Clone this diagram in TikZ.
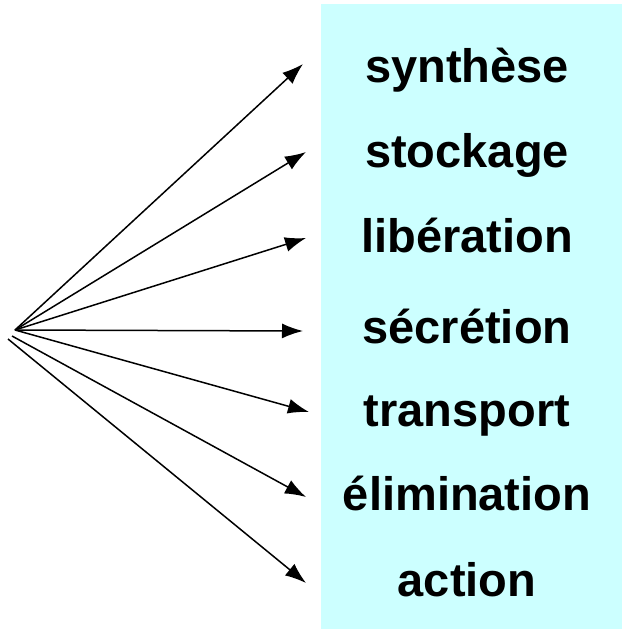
\documentclass[tikz,border=0pt]{standalone}
\usepackage{fontspec}
\setmainfont{Liberation Sans}
\usetikzlibrary{%
  arrows.meta,%
  calc%
}
\definecolor{boxcyan}{RGB}{204,255,255}
\tikzset{>={Latex[length=21pt,width=15pt]}}
\tikzset{step label/.style={anchor=base,font=\fontsize{47}{56}\selectfont\bfseries}}

\begin{document}
\begin{tikzpicture}[x=1pt,y=-1pt]
    \useasboundingbox (0,0) rectangle (622,629);
    \fill[boxcyan] (321,4) rectangle (622,629);
    % where the arrows leave
    \coordinate (src) at (15,330);
    \coordinate (srcb) at (12,336);
    \coordinate (srcc) at (8,339);
    % the steps
    \node[step label] (synth) at (467,82) {synthèse};
    \node[step label] (stock) at (467,167) {stockage};
    \node[step label] (liber) at (467,252) {libération};
    \node[step label] (secr) at (467,343) {sécrétion};
    \node[step label] (transp) at (467,426) {transport};
    \node[step label] (elim) at (467,510) {élimination};
    \node[step label] (act) at (467,596) {action};
    % arrow tips
    \coordinate (tsynth) at (303,64);
    \coordinate (tstock) at (306,152);
    \coordinate (tliber) at (306,238);
    \coordinate (tsecr) at (303,331);
    \coordinate (ttransp) at (309,412);
    \coordinate (telim) at (306,497);
    \coordinate (tact) at (306,583);
    \draw[line width=1.5pt,->] (src) -- (tsynth);
    \draw[line width=1.5pt,->] (src) -- (tstock);
    \draw[line width=1.5pt,->] (src) -- (tliber);
    \draw[line width=1.5pt,->] (src) -- (tsecr);
    \draw[line width=1.5pt,->] (src) -- (ttransp);
    \draw[line width=1.5pt,->] (srcb) -- (telim);
    \draw[line width=1.5pt,->] (srcc) -- (tact);
\end{tikzpicture}
\end{document}
